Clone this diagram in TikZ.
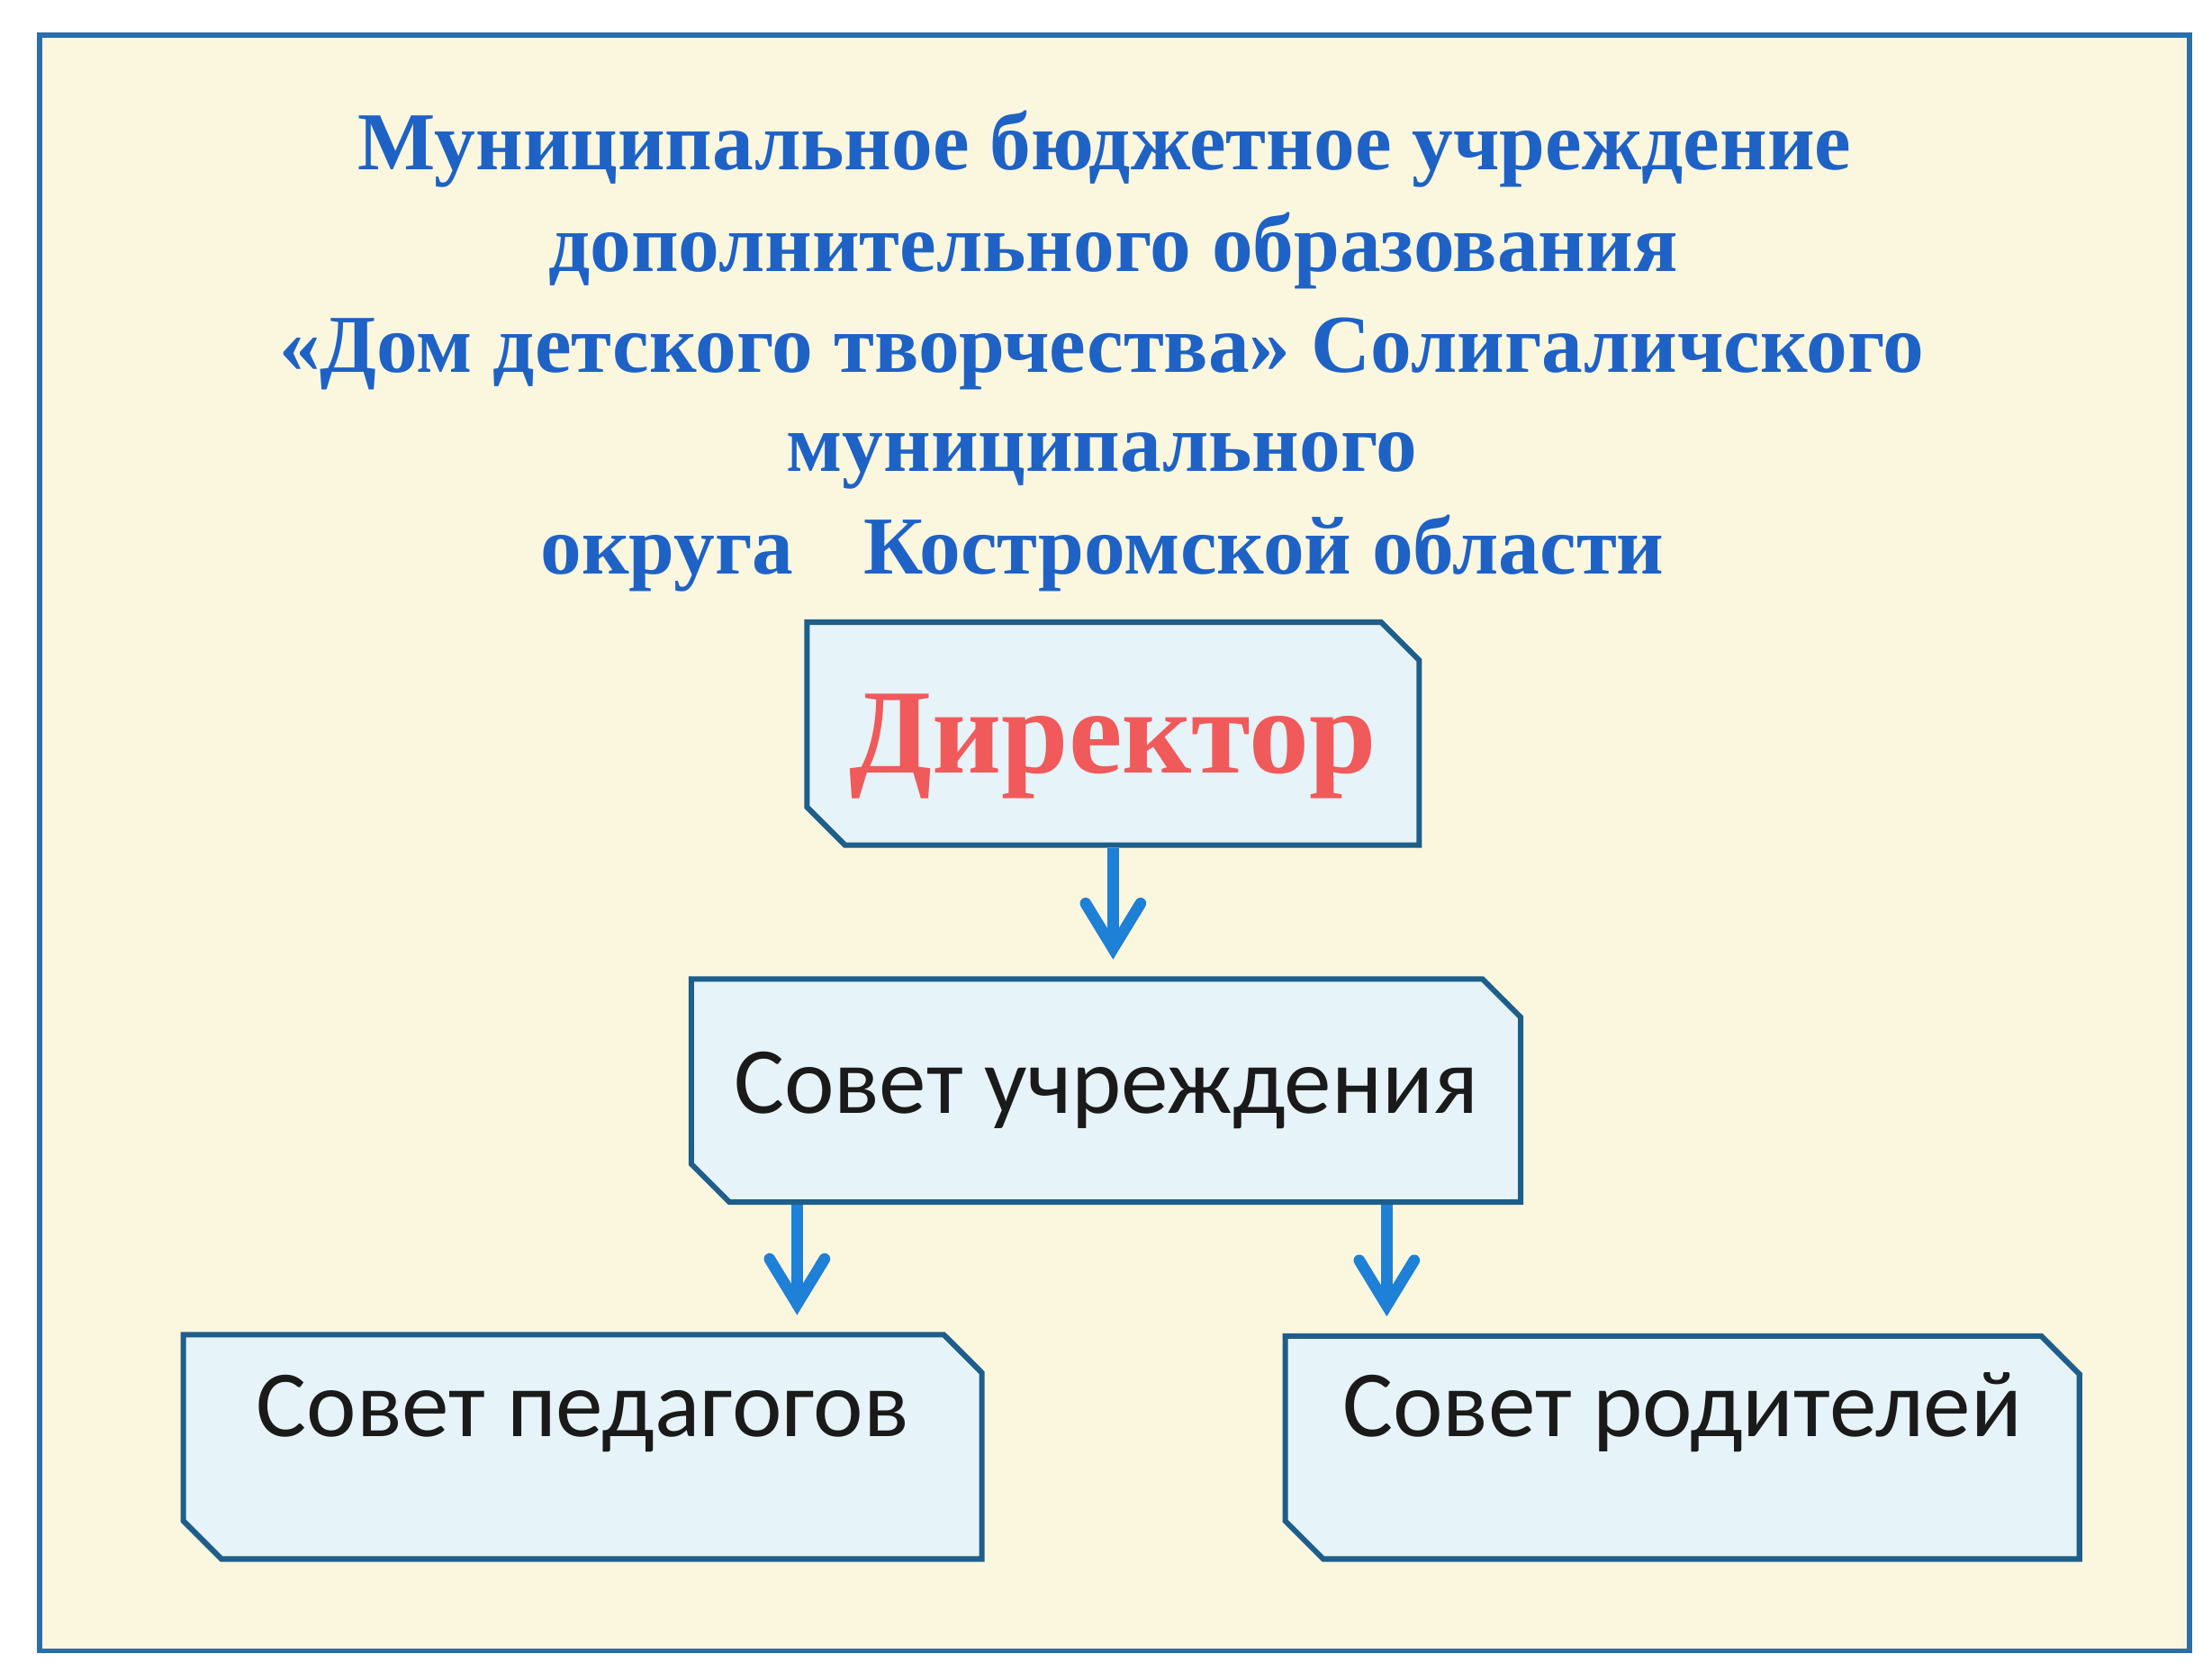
\documentclass[tikz,border=0pt]{standalone}
\usepackage{fontspec}
\setmainfont{Liberation Serif}
\newfontfamily\boxfont{Carlito}
\usetikzlibrary{shapes.misc,arrows.meta,positioning}
\definecolor{paper}{HTML}{FBF7DF}
\definecolor{frameblue}{HTML}{2A6EAA}
\definecolor{boxfill}{HTML}{E6F3F8}
\definecolor{boxline}{HTML}{1E5E8A}
\definecolor{arrowblue}{HTML}{1E80D6}
\definecolor{titleblue}{HTML}{1F62C6}
\definecolor{chiefred}{HTML}{F05A5A}
\definecolor{boxtext}{HTML}{1A1A1A}
\tikzset{
	unit/.style={chamfered rectangle, chamfered rectangle corners={north east,south west}, chamfered rectangle xsep=0.135cm, chamfered rectangle ysep=0.135cm, draw=boxline, fill=boxfill, line width=1.1pt, inner sep=0pt, text=boxtext, font=\boxfont\fontsize{19.1}{23}\selectfont},
	lower/.style={text height=0.45cm, text depth=0.6cm},
	link/.style={draw=arrowblue, line width=2.3pt, -{Straight Barb[length=3.2mm,width=3.9mm,line cap=round,line join=miter]}, shorten >=0.12cm},
	heading/.style={anchor=base, inner sep=0pt, text=titleblue, font=\bfseries\fontsize{16.6}{20}\selectfont}
}
\begin{document}
\begin{tikzpicture}
	\fill[white] (0,0) rectangle (15.68,-11.845);
	\draw[frameblue, line width=1pt, fill=paper] (0.28,-0.25) rectangle (15.52,-11.70);
	% title
	\node[heading] (t1) at (7.83,-1.206) {Муниципальное бюджетное учреждение};
	\node[heading] (t2) at (7.89,-1.926) {дополнительного образования};
	\node[heading] (t3) at (7.81,-2.64) {«Дом детского творчества» Солигаличского};
	\node[heading] (t4) at (7.81,-3.34) {муниципального};
	\node[heading] (t5) at (7.815,-4.068) {округа\hspace{0.5cm}Костромской области};
	% boxes
	\node[unit, minimum width=4.34cm, minimum height=1.58cm, text depth=0pt, text=chiefred, font=\bfseries\fontsize{24.3}{29}\selectfont] (dir) at (7.89,-5.20) {Директор};
	\node[unit, minimum width=5.88cm, minimum height=1.58cm] (sovet) at (7.84,-7.73) {Совет учреждения};
	\node[unit, lower, minimum width=5.66cm, minimum height=1.59cm] (ped) at (4.13,-10.255) {Совет педагогов};
	\node[unit, lower, minimum width=5.63cm, minimum height=1.58cm] (rod) at (11.925,-10.26) {Совет родителей};
	% arrows
	\coordinate (fork1) at ([xshift=-2.19cm]sovet.south);
	\coordinate (fork2) at ([xshift=1.99cm]sovet.south);
	\draw[link] (dir.south) -- (dir.south |- sovet.north);
	\draw[link] (fork1) -- (fork1 |- ped.north);
	\draw[link] (fork2) -- (fork2 |- rod.north);
\end{tikzpicture}
\end{document}
